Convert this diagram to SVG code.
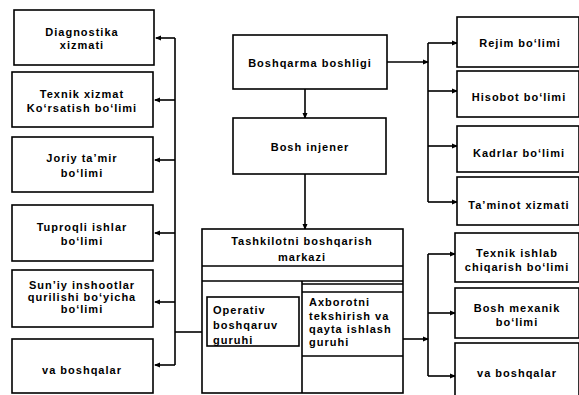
<svg xmlns="http://www.w3.org/2000/svg" width="579" height="395" viewBox="0 0 579 395">
<defs>
<marker id="ah" markerWidth="6" markerHeight="6" refX="5" refY="3" orient="auto" markerUnits="userSpaceOnUse">
<path d="M0,0.5 L6,3 L0,5.5 Z" fill="#000"/>
</marker>
<style>
rect{fill:#fff;stroke:#000;stroke-width:1.6}
.l{fill:none;stroke:#000;stroke-width:1.6}
.c{stroke:#000;stroke-width:1.6;fill:none;marker-end:url(#ah)}
text{font-family:"Liberation Sans",Arial,sans-serif;font-size:11px;font-weight:bold;fill:#000;text-anchor:middle;letter-spacing:1px}
text.s{text-anchor:start}
</style>
</defs>
<rect x="0" y="0" width="579" height="395" style="fill:#fff;stroke:none"/>
<g id="connectors">
<path class="l" d="M175,38 V365"/>
<path class="c" d="M175,38 H156"/>
<path class="c" d="M175,100 H155"/>
<path class="c" d="M175,160 H155"/>
<path class="c" d="M175,233 H155"/>
<path class="c" d="M175,302 H155"/>
<path class="c" d="M175,365 H155"/>
<path class="l" d="M202,332 H175"/>
<path class="c" d="M305,89 V118"/>
<path class="c" d="M305,174 V229"/>
<path class="c" d="M387,62 H428"/>
<path class="l" d="M428,43 V202"/>
<path class="c" d="M428,43 H457"/>
<path class="c" d="M428,91 H457"/>
<path class="c" d="M428,146 H457"/>
<path class="c" d="M428,202 H457"/>
<path class="c" d="M403,339 H428"/>
<path class="l" d="M428,254 V376"/>
<path class="c" d="M428,254 H455"/>
<path class="c" d="M428,313 H455"/>
<path class="c" d="M428,376 H455"/>
</g>
<g id="n-diagnostika"><rect x="14" y="10" width="140" height="55"/><text x="82" y="36">Diagnostika</text><text x="82" y="49">xizmati</text></g>
<g id="n-texnik-xizmat"><rect x="12" y="72" width="141" height="55"/><text x="82" y="98">Texnik xizmat</text><text x="82" y="112">Ko‘rsatish bo‘limi</text></g>
<g id="n-joriy"><rect x="12" y="137" width="141" height="55"/><text x="82" y="162">Joriy ta’mir</text><text x="82" y="177">bo‘limi</text></g>
<g id="n-tuproqli"><rect x="12" y="205" width="141" height="56"/><text x="82" y="231">Tuproqli ishlar</text><text x="82" y="245">bo‘limi</text></g>
<g id="n-sun-iy"><rect x="12" y="270" width="141" height="57"/><text x="82" y="289">Sun’iy inshootlar</text><text x="82" y="301">qurilishi bo‘yicha</text><text x="82" y="313">bo‘limi</text></g>
<g id="n-va-boshqalar-l"><rect x="12" y="339" width="141" height="54"/><text x="82" y="374">va boshqalar</text></g>
<g id="n-boshqarma"><rect x="233" y="35" width="154" height="54"/><text x="310" y="67">Boshqarma boshligi</text></g>
<g id="n-bosh-injener"><rect x="233" y="118" width="153" height="56"/><text x="310" y="151">Bosh injener</text></g>
<g id="n-markaz">
<rect x="202" y="229" width="201" height="164"/>
<path class="l" d="M202,266 H403 M202,281 H403 M302,281 V393 M302,284 H403 M302,292 H403 M302,356 H403"/>
<text x="302" y="245">Tashkilotni boshqarish</text><text x="302" y="261">markazi</text>
</g>
<g id="n-operativ"><rect x="207" y="297" width="92" height="49"/><text class="s" x="213" y="314">Operativ</text><text class="s" x="213" y="329">boshqaruv</text><text class="s" x="213" y="344">guruhi</text></g>
<g id="n-axborot"><text class="s" x="309" y="306">Axborotni</text><text class="s" x="309" y="320">tekshirish va</text><text class="s" x="309" y="333">qayta ishlash</text><text class="s" x="309" y="346">guruhi</text></g>
<g id="n-rejim"><rect x="457" y="17" width="122" height="50"/><text x="520" y="47">Rejim bo‘limi</text></g>
<g id="n-hisobot"><rect x="457" y="71" width="122" height="46"/><text x="519" y="101">Hisobot bo‘limi</text></g>
<g id="n-kadrlar"><rect x="457" y="126" width="122" height="46"/><text x="519" y="157">Kadrlar bo‘limi</text></g>
<g id="n-taminot"><rect x="457" y="177" width="122" height="48"/><text x="519" y="209">Ta’minot xizmati</text></g>
<g id="n-texnik-ishlab"><rect x="455" y="233" width="124" height="49"/><text x="517" y="257">Texnik ishlab</text><text x="517" y="271">chiqarish bo‘limi</text></g>
<g id="n-bosh-mexanik"><rect x="455" y="288" width="124" height="50"/><text x="517" y="312">Bosh mexanik</text><text x="517" y="326">bo‘limi</text></g>
<g id="n-va-boshqalar-r"><rect x="455" y="343" width="124" height="55"/><text x="517" y="377">va boshqalar</text></g>
</svg>
